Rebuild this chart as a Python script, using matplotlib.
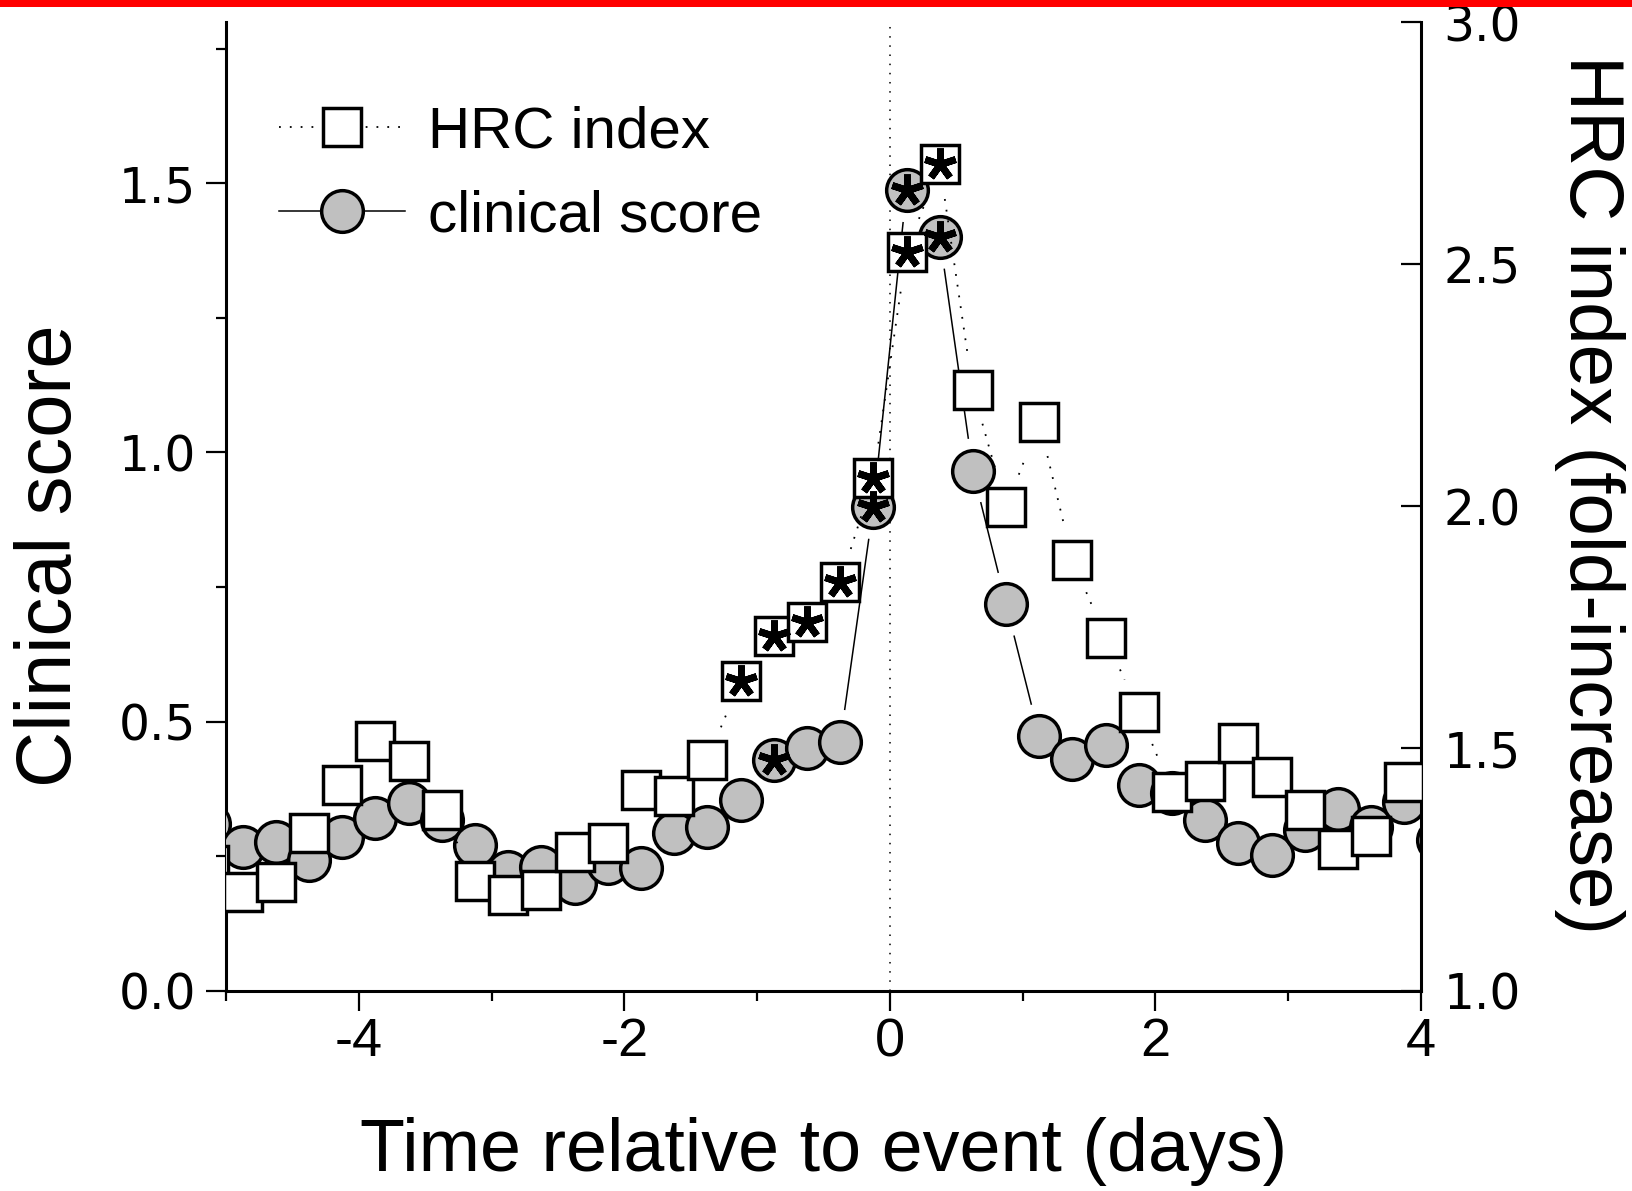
import numpy as np
import matplotlib
matplotlib.use("Agg")
import matplotlib.pyplot as plt
from matplotlib.lines import Line2D
from matplotlib.patches import Rectangle
from matplotlib.ticker import MultipleLocator, FormatStrFormatter

plt.rcParams["font.family"] = ["Liberation Sans", "DejaVu Sans"]
plt.rcParams["axes.unicode_minus"] = False

# 6-hour bins, days relative to the event
days = [-5.125, -4.875, -4.625, -4.375, -4.125, -3.875, -3.625, -3.375,
        -3.125, -2.875, -2.625, -2.375, -2.125, -1.875, -1.625, -1.375,
        -1.125, -0.875, -0.625, -0.375, -0.125, 0.125, 0.375, 0.625,
        0.875, 1.125, 1.375, 1.625, 1.875, 2.125, 2.375, 2.625,
        2.875, 3.125, 3.375, 3.625, 3.875, 4.125]

clinical_score = [0.31, 0.267, 0.276, 0.243, 0.285, 0.32, 0.348, 0.317,
                  0.27, 0.22, 0.23, 0.20, 0.237, 0.227, 0.293, 0.304,
                  0.354, 0.428, 0.450, 0.462, 0.899, 1.488, 1.401, 0.966,
                  0.718, 0.473, 0.430, 0.456, 0.382, 0.367, 0.317, 0.274,
                  0.252, 0.298, 0.338, 0.304, 0.350, 0.28]

hrc_index = [1.26, 1.204, 1.224, 1.326, 1.425, 1.516, 1.475, 1.373,
             1.226, 1.198, 1.208, 1.287, 1.305, 1.414, 1.402, 1.477,
             1.640, 1.733, 1.762, 1.843, 2.058, 2.526, 2.706, 2.240,
             1.998, 2.174, 1.889, 1.729, 1.576, 1.410, 1.432, 1.512,
             1.440, 1.373, 1.293, 1.320, 1.431, np.nan]

# bins with a significant change (asterisk)
clinical_sig = [-0.875, -0.125, 0.125, 0.375]
hrc_sig = [-1.125, -0.875, -0.625, -0.375, -0.125, 0.125, 0.375]

GREY = "#c0c0c0"
DOTS = (0, (1, 5))


def gapped_line(ax, x, y, gap_px, **kw):
    """Connect points with segments that stop short of each symbol."""
    pts = ax.transData.transform(np.column_stack([x, y]))
    inv = ax.transData.inverted()
    for p0, p1 in zip(pts[:-1], pts[1:]):
        if np.isnan(p0).any() or np.isnan(p1).any():
            continue
        d = p1 - p0
        length = np.hypot(*d)
        if length <= 2 * gap_px:
            continue
        u = d / length
        a, b = inv.transform(np.array([p0 + u * gap_px, p1 - u * gap_px]))
        ax.plot([a[0], b[0]], [a[1], b[1]], zorder=2, **kw)


def sig_values(xs, ys, sig):
    lookup = dict(zip(xs, ys))
    return [lookup[d] for d in sig]


fig = plt.figure(figsize=(16.33, 11.91), dpi=100)
fig.add_artist(Rectangle((0, 1 - 7 / 1191), 1, 7 / 1191,
                         transform=fig.transFigure, color="#ff0000", lw=0))

ax = fig.add_axes([0.1384, 0.1683, 0.8702 - 0.1384, 0.9815 - 0.1683])
ax2 = ax.twinx()

ax.set_xlim(-5, 4)
ax.set_ylim(0, 1.8)
ax2.set_ylim(1.0, 3.0)

ax.axvline(0, color="k", lw=1.1, ls=DOTS, zorder=1)

# clinical score on the left axis
gapped_line(ax, days, clinical_score, 33, color="k", lw=1.1, ls="-")
ax.plot(days, clinical_score, ls="none", marker="o", ms=30, mfc=GREY,
        mec="k", mew=2.5, zorder=3)

# HRC index on the right axis
gapped_line(ax2, days, hrc_index, 35, color="k", lw=1.3, ls=DOTS)
ax2.plot(days, hrc_index, ls="none", marker="s", ms=27.7, mfc="white",
         mec="k", mew=2.5, zorder=3)

# asterisks on top of both series
ax2.plot(clinical_sig, sig_values(days, clinical_score, clinical_sig),
         ls="none", marker=(5, 2, 0), ms=23, mec="k", mew=5,
         transform=ax.transData, zorder=5)
ax2.plot(hrc_sig, sig_values(days, hrc_index, hrc_sig),
         ls="none", marker=(5, 2, 0), ms=23, mec="k", mew=5, zorder=5)

# spines
for s in ("top", "right"):
    ax.spines[s].set_visible(False)
for s in ("top", "left", "bottom"):
    ax2.spines[s].set_visible(False)
for sp in (ax.spines["left"], ax.spines["bottom"], ax2.spines["right"]):
    sp.set_linewidth(2.2)

# ticks
ax.xaxis.set_major_locator(MultipleLocator(2))
ax.xaxis.set_minor_locator(MultipleLocator(1))
ax.yaxis.set_major_locator(MultipleLocator(0.5))
ax.yaxis.set_minor_locator(MultipleLocator(0.25))
ax.yaxis.set_major_formatter(FormatStrFormatter("%.1f"))
ax2.yaxis.set_major_locator(MultipleLocator(0.5))
ax2.yaxis.set_major_formatter(FormatStrFormatter("%.1f"))

ax.tick_params(axis="both", which="major", direction="out", length=14.4,
               width=1.6, top=False, right=False)
ax.tick_params(axis="both", which="minor", direction="out", length=7.5,
               width=1.6, top=False, right=False)
ax.tick_params(axis="x", which="major", pad=5, labelsize=39)
ax.tick_params(axis="y", which="major", pad=7, labelsize=35)
ax2.tick_params(axis="y", which="major", direction="in", length=14.4,
                width=1.6, pad=16, labelsize=35)
for lab in ax.get_yticklabels() + ax2.get_yticklabels():
    lab.set_family("DejaVu Sans")

# axis titles
ax.set_xlabel("Time relative to event (days)", fontsize=53)
ax.xaxis.set_label_coords(0.5, -0.166)
ax.xaxis.label.set_va("center")
ax.set_ylabel("Clinical score", fontsize=56)
ax.yaxis.set_label_coords(-0.147, 0.449)
ax.yaxis.label.set_va("center")
ax2.set_ylabel("HRC index (fold-increase)", fontsize=55, rotation=-90)
ax2.yaxis.set_label_coords(1.141, 0.512)
ax2.yaxis.label.set_va("center")

# legend
handles = [
    Line2D([], [], color="k", lw=1.3, ls=DOTS, marker="s", ms=27.7,
           mfc="white", mec="k", mew=2.5),
    Line2D([], [], color="k", lw=1.1, ls="-", marker="o", ms=30,
           mfc=GREY, mec="k", mew=2.5),
]
ax2.legend(handles, ["HRC index", "clinical score"], loc="upper left",
           bbox_to_anchor=(0.0444, 0.914), frameon=False, fontsize=42,
           handlelength=2.16, handletextpad=0.4, labelspacing=0.52,
           borderpad=0, borderaxespad=0)

fig.savefig("out.png", dpi=100, facecolor="white")
